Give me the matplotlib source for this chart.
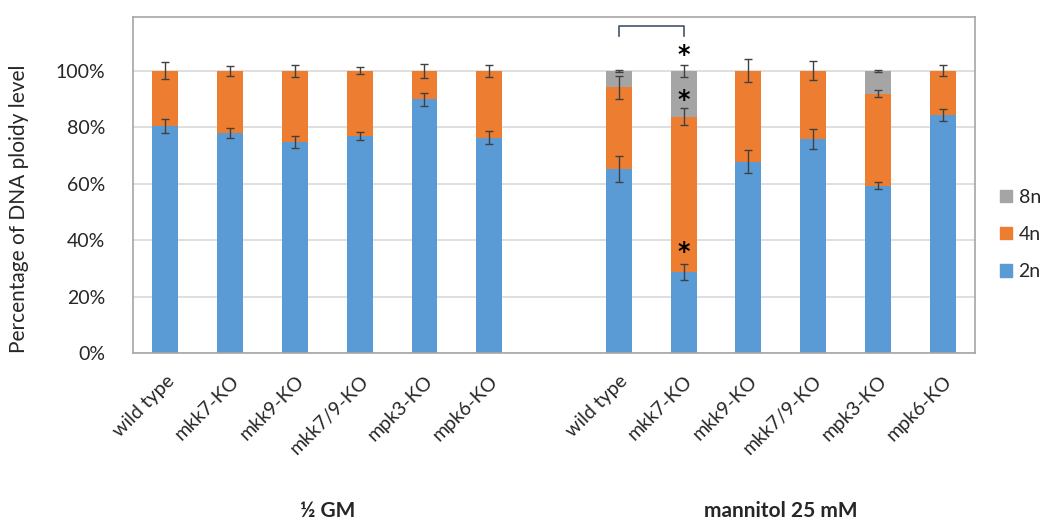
import matplotlib
matplotlib.use("Agg")
import matplotlib.pyplot as plt
from matplotlib.ticker import PercentFormatter
from matplotlib.patches import Patch

plt.rcParams["font.family"] = ["Lato", "DejaVu Sans"]

# Genotypes, shown once per growth condition
genotypes = ["wild type", "mkk7-KO", "mkk9-KO", "mkk7/9-KO", "mpk3-KO", "mpk6-KO"]
conditions = ["½ GM", "mannitol 25 mM"]

# Ploidy fractions (%), first the ½ GM group then the mannitol group
p2n = [80.4, 77.9, 74.7, 76.8, 89.9, 76.3,
       65.2, 28.7, 67.8, 75.7, 59.3, 84.3]
p4n = [19.6, 22.1, 25.3, 23.2, 10.1, 23.7,
       28.9, 55.0, 32.2, 24.3, 32.6, 15.7]
p8n = [0.0, 0.0, 0.0, 0.0, 0.0, 0.0,
       5.9, 16.3, 0.0, 0.0, 8.1, 0.0]

# Error bars (±) at the top of each stacked segment
err2n = [2.6, 1.7, 2.1, 1.35, 2.2, 2.2,
         4.5, 2.8, 4.1, 3.5, 1.3, 2.0]
err4n = [3.0, 1.8, 2.2, 1.3, 2.4, 2.2,
         4.1, 3.0, 4.1, 3.4, 1.2, 1.95]
err8n = [None, None, None, None, None, None,
         0.3, 2.2, None, None, 0.3, None]

# Significance marks on mannitol mkk7-KO (bar index 7)
star_bar = 7
star_levels = [105.5, 89.6, 35.9]
bracket_bars = (6, 7)
bracket_levels = (112.4, 115.9)

c2n, c4n, c8n = "#5B9BD5", "#ED7D31", "#A5A5A5"
err_color = "#404040"
text_color = "#262626"

fig = plt.figure(figsize=(10.44, 5.21), dpi=100)
ax = fig.add_axes([0.1274, 0.3225, 0.8066, 0.6445])

n = len(genotypes)
xs = list(range(n)) + [n + 1 + i for i in range(n)]
labels = genotypes + genotypes
w = 0.40

ax.bar(xs, p2n, w, color=c2n, zorder=2)
ax.bar(xs, p4n, w, bottom=p2n, color=c4n, zorder=2)
b8 = [a + b for a, b in zip(p2n, p4n)]
ax.bar(xs, p8n, w, bottom=b8, color=c8n, zorder=2)

ekw = dict(fmt="none", ecolor=err_color, elinewidth=1.0, capsize=3,
           capthick=1.0, zorder=3)
ax.errorbar(xs, p2n, yerr=err2n, **ekw)
ax.errorbar(xs, b8, yerr=err4n, **ekw)
x8 = [x for x, e in zip(xs, err8n) if e is not None]
y8 = [b + p for b, p, e in zip(b8, p8n, err8n) if e is not None]
e8 = [e for e in err8n if e is not None]
ax.errorbar(x8, y8, yerr=e8, **ekw)

for yv in star_levels:
    ax.text(xs[star_bar], yv, "*", ha="center", va="center", fontsize=17,
            fontweight="bold", color="black", zorder=4,
            family=["DejaVu Sans"])

xa, xb = xs[bracket_bars[0]], xs[bracket_bars[1]]
lo, hi = bracket_levels
ax.plot([xa, xa, xb, xb], [lo, hi, hi, lo], color="#44546A", lw=1.2,
        zorder=4, clip_on=False)

ax.set_xlim(-0.5, xs[-1] + 0.5)
ax.set_ylim(0, 119)
ax.set_yticks([0, 20, 40, 60, 80, 100])
ax.yaxis.set_major_formatter(PercentFormatter(decimals=0))
ax.grid(axis="y", color="#D9D9D9", lw=1.2, zorder=0)
ax.set_axisbelow(True)

for s in ax.spines.values():
    s.set_color("#A6A6A6")
    s.set_linewidth(1.2)

ax.tick_params(axis="y", length=0, pad=20, labelsize=14, labelcolor=text_color)
ax.set_xticks(xs)
ax.set_xticklabels(labels, rotation=45, ha="right", rotation_mode="anchor",
                   fontsize=14, color=text_color)
ax.tick_params(axis="x", length=0, pad=14)

ax.set_ylabel("Percentage of DNA ploidy level", fontsize=15, color=text_color)
ax.yaxis.set_label_coords(-0.1235, 0.43)

tr = ax.get_xaxis_transform()
for i, cond in enumerate(conditions):
    cx = (xs[i * n] + xs[i * n + n - 1]) / 2
    ax.text(cx, -0.47, cond, transform=tr, ha="center", va="center",
            fontsize=15, fontweight="bold", color=text_color)

handles = [Patch(color=c8n, label="8n"), Patch(color=c4n, label="4n"),
           Patch(color=c2n, label="2n")]
fig.legend(handles=handles, loc="center left", bbox_to_anchor=(0.958, 0.55),
           frameon=False, fontsize=14, handlelength=0.6, handleheight=0.6,
           handletextpad=0.35, labelspacing=1.05, borderaxespad=0,
           borderpad=0, labelcolor=text_color)

fig.savefig("out.png", dpi=100)
